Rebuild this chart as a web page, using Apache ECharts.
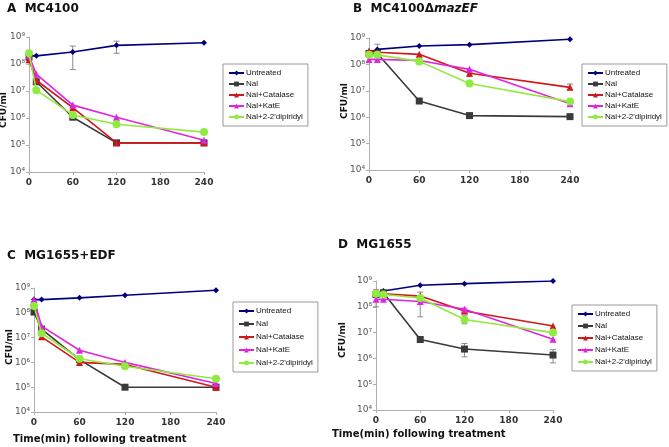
<!DOCTYPE html>
<html>
<head>
<meta charset="utf-8">
<script src="https://cdn.jsdelivr.net/npm/echarts@6/dist/echarts.min.js"></script>
<style>
  html, body { margin: 0; padding: 0; background: #fff; }
  #chart { width: 669px; height: 447px; }
</style>
</head>
<body>
<div id="chart"></div>
<script>
// sampling times (min)
const times = [0, 10, 60, 120, 240];
const xTicks = [0, 60, 120, 180, 240];
const yTickLabels = ['10⁴', '10⁵', '10⁶', '10⁷', '10⁸', '10⁹'];

const seriesNames = ['Untreated', 'Nal', 'Nal+Catalase', 'Nal+KatE', "Nal+2-2'dipiridyl"];
const colors = ['#00007f', '#3a3a3a', '#d01818', '#e024e0', '#90ea40'];
const symbols = ['diamond', 'rect', 'triangle', 'triangle', 'circle'];
const symbolSizes = [6, 7, 7, 7, 8];

// A  MC4100
const untreatedA = [2.0e8, 2.0e8, 2.8e8, 4.9e8, 6.1e8];
const nalA = [1.8e8, 2.2e7, 1.07e6, 1.2e5, 1.2e5];
const catalaseA = [1.45e8, 2.5e7, 2.4e6, 1.2e5, 1.2e5];
const kateA = [2.0e8, 4.2e7, 3.0e6, 1.07e6, 1.5e5];
const dipiridylA = [2.5e8, 1.07e7, 1.3e6, 5.9e5, 3.0e5];
const errorsA = [[60, 6.2e7, 4.6e8], [120, 2.5e8, 7.0e8]];

// B  MC4100 delta mazEF
const untreatedB = [2.9e8, 3.7e8, 5.0e8, 5.6e8, 9.0e8];
const nalB = [2.6e8, 2.6e8, 4.1e6, 1.15e6, 1.05e6];
const catalaseB = [3.2e8, 2.9e8, 2.4e8, 4.6e7, 1.35e7];
const kateB = [1.55e8, 1.55e8, 1.4e8, 6.5e7, 3.2e6];
const dipiridylB = [2.3e8, 2.3e8, 1.3e8, 1.9e7, 3.9e6];
const errorsB = [[10, 2.5e8, 5.8e8], [120, 3.5e7, 6.0e7], [240, 1.1e7, 1.8e7]];

// C  MG1655+EDF
const untreatedC = [3.4e8, 3.4e8, 4.0e8, 5.1e8, 8.1e8];
const nalC = [1.07e8, 2.2e7, 1.3e6, 1.0e5, 1.0e5];
const catalaseC = [2.9e8, 1.07e7, 1.0e6, 8.3e5, 1.0e5];
const kateC = [3.4e8, 2.9e7, 3.1e6, 1.0e6, 1.4e5];
const dipiridylC = [1.9e8, 1.5e7, 1.4e6, 7.0e5, 2.2e5];
const errorsC = [];

// D  MG1655
const untreatedD = [3.0e8, 4.1e8, 6.8e8, 7.9e8, 1.0e9];
const nalD = [3.0e8, 3.5e8, 5.4e6, 2.3e6, 1.35e6];
const catalaseD = [3.5e8, 3.2e8, 2.6e8, 6.9e7, 1.8e7];
const kateD = [1.95e8, 1.95e8, 1.6e8, 8.0e7, 5.5e6];
const dipiridylD = [3.2e8, 3.0e8, 2.2e8, 3.2e7, 1.0e7];
const errorsD = [[0, 1.0e8, 4.6e8], [60, 4.1e7, 3.7e8], [120, 2.2e7, 4.7e7],
                 [120, 5.5e7, 9.0e7], [120, 1.15e6, 3.8e6], [240, 6.7e5, 2.2e6]];

const font = 'DejaVu Sans';

const panels = [
  { grid: { left: 29, top: 37, width: 175, height: 135 }, data: [untreatedA, nalA, catalaseA, kateA, dipiridylA], err: errorsA,
    legend: { left: 223, top: 64, itemGap: 3 } },
  { grid: { left: 369, top: 38, width: 201, height: 132 }, data: [untreatedB, nalB, catalaseB, kateB, dipiridylB], err: errorsB,
    legend: { left: 582, top: 64, itemGap: 3 } },
  { grid: { left: 34, top: 288, width: 182, height: 124 }, data: [untreatedC, nalC, catalaseC, kateC, dipiridylC], err: errorsC,
    legend: { left: 233, top: 302, itemGap: 5 } },
  { grid: { left: 376, top: 281, width: 177, height: 129 }, data: [untreatedD, nalD, catalaseD, kateD, dipiridylD], err: errorsD,
    legend: { left: 572, top: 305, itemGap: 4 } }
];

const grids = [], xAxes = [], yAxes = [], series = [], legends = [];

panels.forEach(function (p, i) {
  grids.push(p.grid);
  xAxes.push({
    type: 'value', gridIndex: i, min: 0, max: 240, interval: 60,
    axisLine: { lineStyle: { color: '#b0b0b0' } },
    axisTick: { length: 3, lineStyle: { color: '#b0b0b0' } },
    splitLine: { show: false },
    axisLabel: { color: '#333', fontSize: 9, fontWeight: 'bold', fontFamily: font, margin: 6,
      formatter: function (v) { return xTicks.indexOf(v) >= 0 ? String(v) : ''; } }
  });
  yAxes.push({
    type: 'log', logBase: 10, gridIndex: i, min: 1e4, max: 1e9,
    axisLine: { show: true, lineStyle: { color: '#b0b0b0' } },
    axisTick: { show: true, length: 3, lineStyle: { color: '#b0b0b0' } },
    splitLine: { show: false },
    axisLabel: { color: '#555', fontSize: 9, fontFamily: font, margin: 4,
      formatter: function (v) { return yTickLabels[Math.round(Math.log10(v)) - 4]; } }
  });
  seriesNames.forEach(function (name, k) {
    series.push({
      name: name, type: 'line', xAxisIndex: i, yAxisIndex: i,
      data: times.map(function (t, j) { return [t, p.data[k][j]]; }),
      symbol: symbols[k], symbolSize: symbolSizes[k], showAllSymbol: true,
      lineStyle: { color: colors[k], width: 1.6 },
      itemStyle: { color: colors[k] },
      z: 3 + k
    });
  });
  series.push({
    type: 'custom', xAxisIndex: i, yAxisIndex: i, z: 2,
    data: p.err,
    encode: { x: 0, y: [1, 2] },
    renderItem: function (params, api) {
      const lo = api.coord([api.value(0), api.value(1)]);
      const hi = api.coord([api.value(0), api.value(2)]);
      const st = { stroke: '#8c8c8c', lineWidth: 1 };
      return { type: 'group', children: [
        { type: 'line', shape: { x1: lo[0], y1: lo[1], x2: hi[0], y2: hi[1] }, style: st },
        { type: 'line', shape: { x1: lo[0] - 3, y1: lo[1], x2: lo[0] + 3, y2: lo[1] }, style: st },
        { type: 'line', shape: { x1: hi[0] - 3, y1: hi[1], x2: hi[0] + 3, y2: hi[1] }, style: st }
      ] };
    }
  });
  legends.push({
    orient: 'vertical', left: p.legend.left, top: p.legend.top,
    data: seriesNames, itemGap: p.legend.itemGap, itemWidth: 15, itemHeight: 6,
    borderColor: '#9a9a9a', borderWidth: 1, borderRadius: 0, padding: [5, 5, 5, 5],
    selectedMode: false,
    textStyle: { fontSize: 8, color: '#111', fontFamily: 'Liberation Sans', padding: [0, 0, 0, -3] }
  });
});

const titleStyle = { fontSize: 12, fontWeight: 'bold', color: '#111', fontFamily: font };
const titles = [
  { text: 'A  MC4100', left: 7, top: 3, textStyle: titleStyle },
  { text: '{a|B  MC4100Δ}{b|mazEF}', left: 353, top: 3,
    textStyle: { rich: { a: titleStyle, b: { fontSize: 12, fontStyle: 'italic', color: '#111', fontFamily: font } } } },
  { text: 'C  MG1655+EDF', left: 7, top: 250, textStyle: titleStyle },
  { text: 'D  MG1655', left: 338, top: 239, textStyle: titleStyle },
  { text: 'Time(min) following treatment', left: 13, top: 434,
    textStyle: { fontSize: 10, fontWeight: 'bold', color: '#111', fontFamily: font } },
  { text: 'Time(min) following treatment', left: 332, top: 429,
    textStyle: { fontSize: 10, fontWeight: 'bold', color: '#111', fontFamily: font } }
];
titles.forEach(function (t) { t.padding = 0; });

const cfuLabels = [[4, 110], [345, 101], [10, 347], [343, 340]];

const chart = echarts.init(document.getElementById('chart'), null, { renderer: 'canvas' });
chart.setOption({
  backgroundColor: '#fff',
  animation: false,
  title: titles,
  grid: grids,
  xAxis: xAxes,
  yAxis: yAxes,
  legend: legends,
  series: series,
  graphic: cfuLabels.map(function (c) {
    return {
      type: 'text', x: c[0], y: c[1], rotation: Math.PI / 2,
      style: { text: 'CFU/ml', fontSize: 9, fontWeight: 'bold', fontFamily: font, fill: '#111',
        textAlign: 'center', textVerticalAlign: 'middle' }
    };
  })
});
</script>
</body>
</html>
